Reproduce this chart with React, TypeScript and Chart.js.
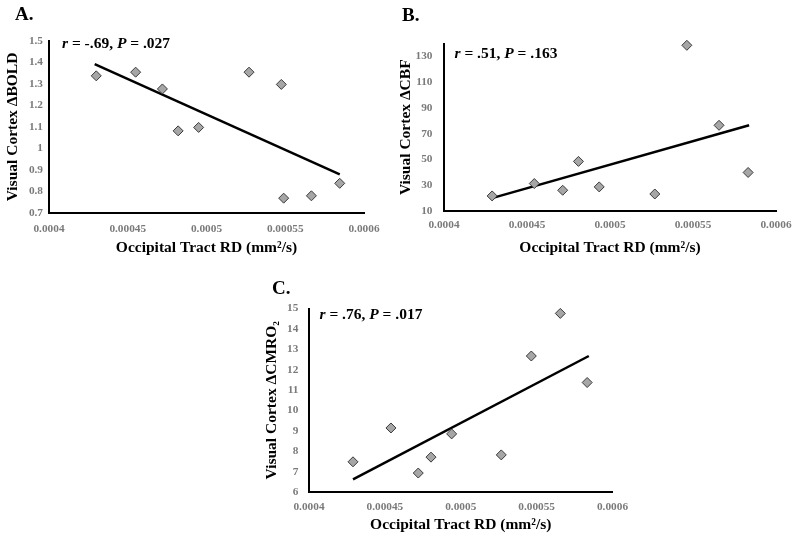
import React, { useEffect, useRef } from "react";
import { Chart, registerables } from "chart.js";

Chart.register(...registerables);

const FONT = '"Liberation Serif", "Times New Roman", Times, serif';

// shared x axis
const xTicks = [0.0004, 0.00045, 0.0005, 0.00055, 0.0006];
const xTickLabels = ["0.0004", "0.00045", "0.0005", "0.00055", "0.0006"];
const xTitle = "Occipital Tract RD (mm\u00b2/s)";

// Panel A: BOLD
const aX = [0.00043, 0.000455, 0.000472, 0.000482, 0.000495, 0.000527, 0.0005475, 0.000549, 0.0005666, 0.0005846];
const aY = [1.338, 1.355, 1.277, 1.082, 1.098, 1.355, 1.298, 0.769, 0.78, 0.838];
const aTrendX = [0.000429, 0.0005846];
const aTrendY = [1.392, 0.88];
const aYTicks = [0.7, 0.8, 0.9, 1, 1.1, 1.2, 1.3, 1.4, 1.5];
const aYTickLabels = ["0.7", "0.8", "0.9", "1", "1.1", "1.2", "1.3", "1.4", "1.5"];

// Panel B: CBF
const bX = [0.000429, 0.0004544, 0.0004715, 0.000481, 0.0004935, 0.000527, 0.0005463, 0.0005657, 0.0005832];
const bY = [21.7, 31.3, 26.1, 48.5, 28.7, 23.2, 138.6, 76.5, 39.9];
const bTrendX = [0.00043, 0.0005838];
const bTrendY = [20.4, 76.5];
const bYTicks = [10, 30, 50, 70, 90, 110, 130];
const bYTickLabels = ["10", "30", "50", "70", "90", "110", "130"];

// Panel C: CMRO2
const cX = [0.000429, 0.000454, 0.000472, 0.0004804, 0.000494, 0.0005267, 0.0005465, 0.0005656, 0.0005833];
const cY = [7.48, 9.14, 6.93, 7.71, 8.85, 7.82, 12.67, 14.76, 11.37];
const cTrendX = [0.000429, 0.0005844];
const cTrendY = [6.62, 12.67];
const cYTicks = [6, 7, 8, 9, 10, 11, 12, 13, 14, 15];
const cYTickLabels = ["6", "7", "8", "9", "10", "11", "12", "13", "14", "15"];

type Note = [string, boolean][];

type Cfg = {
  left: number; top: number; width: number; height: number;
  area: { l: number; t: number; r: number; b: number };
  xs: number[]; ys: number[]; tx: number[]; ty: number[];
  yMin: number; yMax: number; yTicks: number[]; yTickLabels: string[];
  yTitle: string; yTitleX: number; xTitleY: number;
  xTickPad: number; yTickPad: number;
  note: Note; noteX: number; noteY: number;
};

const TITLE_SIZE = 15.5;
const TITLE_LH = 1.2;
const TICK_SIZE = 11.3;

function Panel({ cfg }: { cfg: Cfg }) {
  const ref = useRef<HTMLCanvasElement | null>(null);
  useEffect(() => {
    if (!ref.current) return;
    const c = cfg;
    const yW = c.area.l - c.left;
    const xH = c.top + c.height - c.area.b;
    const lh = TITLE_SIZE * TITLE_LH;
    const notePlugin = {
      id: "note",
      afterDraw(chart: any) {
        const ctx = chart.ctx;
        ctx.save();
        ctx.fillStyle = "#000";
        ctx.textBaseline = "middle";
        ctx.textAlign = "left";
        let x = c.noteX - c.left;
        const y = c.noteY - c.top;
        for (const [txt, it] of c.note) {
          ctx.font = `${it ? "italic " : ""}bold ${TITLE_SIZE}px ${FONT}`;
          ctx.fillText(txt, x, y);
          x += ctx.measureText(txt).width;
        }
        ctx.restore();
      },
    };
    const chart = new Chart(ref.current, {
      type: "scatter",
      data: {
        datasets: [
          {
            data: c.xs.map((x, i) => ({ x, y: c.ys[i] })),
            pointStyle: "rectRot",
            pointRadius: 5,
            pointHoverRadius: 5,
            backgroundColor: "#a6a6a6",
            borderColor: "#3a3a3a",
            borderWidth: 1,
            clip: false,
          },
          {
            data: c.tx.map((x, i) => ({ x, y: c.ty[i] })),
            showLine: true,
            pointRadius: 0,
            borderColor: "#000",
            borderWidth: 2.5,
            backgroundColor: "#000",
            clip: false,
          },
        ],
      },
      options: {
        responsive: false,
        animation: false,
        events: [],
        layout: {
          padding: {
            left: 0,
            top: c.area.t - c.top,
            right: c.left + c.width - c.area.r,
            bottom: 0,
          },
        },
        plugins: { legend: { display: false }, tooltip: { enabled: false } },
        scales: {
          x: {
            type: "linear",
            min: xTicks[0],
            max: xTicks[xTicks.length - 1],
            grid: { display: false, drawTicks: false },
            border: { display: true, color: "#000", width: 2 },
            afterBuildTicks: (s: any) => {
              s.ticks = xTicks.map((v) => ({ value: v }));
            },
            afterFit: (s: any) => {
              s.height = xH;
            },
            ticks: {
              autoSkip: false,
              maxRotation: 0,
              padding: c.xTickPad,
              color: "#7a7a7a",
              font: { family: FONT, size: TICK_SIZE, weight: "bold", lineHeight: 1.2 },
              callback: (v: any) => {
                const i = xTicks.findIndex((t) => Math.abs(t - Number(v)) < 1e-9);
                return i >= 0 ? xTickLabels[i] : "";
              },
            },
            title: {
              display: true,
              text: xTitle,
              color: "#000",
              font: { family: FONT, size: TITLE_SIZE, weight: "bold", lineHeight: TITLE_LH },
              padding: { top: 0, bottom: c.top + c.height - c.xTitleY - lh / 2 },
            },
          },
          y: {
            type: "linear",
            min: c.yMin,
            max: c.yMax,
            grid: { display: false, drawTicks: false },
            border: { display: true, color: "#000", width: 2 },
            afterBuildTicks: (s: any) => {
              s.ticks = c.yTicks.map((v) => ({ value: v }));
            },
            afterFit: (s: any) => {
              s.width = yW;
            },
            ticks: {
              autoSkip: false,
              padding: c.yTickPad,
              color: "#7a7a7a",
              font: { family: FONT, size: TICK_SIZE, weight: "bold", lineHeight: 1.2 },
              callback: (v: any) => {
                const i = c.yTicks.findIndex((t) => Math.abs(t - Number(v)) < 1e-9);
                return i >= 0 ? c.yTickLabels[i] : "";
              },
            },
            title: {
              display: true,
              text: c.yTitle,
              color: "#000",
              font: { family: FONT, size: TITLE_SIZE, weight: "bold", lineHeight: TITLE_LH },
              padding: { top: c.yTitleX - c.left - lh / 2, bottom: 0 },
            },
          },
        },
      } as any,
      plugins: [notePlugin],
    });
    return () => chart.destroy();
  }, [cfg]);
  return (
    <canvas
      ref={ref}
      width={cfg.width}
      height={cfg.height}
      style={{ position: "absolute", left: cfg.left, top: cfg.top, width: cfg.width, height: cfg.height }}
    />
  );
}

const panelA: Cfg = {
  left: 0, top: 0, width: 400, height: 262,
  area: { l: 49, t: 41, r: 364, b: 213 },
  xs: aX, ys: aY, tx: aTrendX, ty: aTrendY,
  yMin: 0.7, yMax: 1.5, yTicks: aYTicks, yTickLabels: aYTickLabels,
  yTitle: "Visual Cortex \u0394BOLD", yTitleX: 13, xTitleY: 248,
  xTickPad: 9.4, yTickPad: 6,
  note: [["r", true], [" = -.69, ", false], ["P", true], [" = .027", false]],
  noteX: 62, noteY: 43.5,
};

const panelB: Cfg = {
  left: 392, top: 0, width: 408, height: 262,
  area: { l: 444, t: 43.5, r: 776, b: 211 },
  xs: bX, ys: bY, tx: bTrendX, ty: bTrendY,
  yMin: 10, yMax: 140, yTicks: bYTicks, yTickLabels: bYTickLabels,
  yTitle: "Visual Cortex \u0394CBF", yTitleX: 406, xTitleY: 248,
  xTickPad: 7.7, yTickPad: 11.5,
  note: [["r", true], [" = .51, ", false], ["P", true], [" = .163", false]],
  noteX: 454.5, noteY: 53.5,
};

const panelC: Cfg = {
  left: 220, top: 265, width: 420, height: 275,
  area: { l: 309, t: 308.5, r: 612.5, b: 492 },
  xs: cX, ys: cY, tx: cTrendX, ty: cTrendY,
  yMin: 6, yMax: 15, yTicks: cYTicks, yTickLabels: cYTickLabels,
  yTitle: "Visual Cortex \u0394CMRO\u2082", yTitleX: 271.7, xTitleY: 525,
  xTickPad: 8.8, yTickPad: 10.7,
  note: [["r", true], [" = .76, ", false], ["P", true], [" = .017", false]],
  noteX: 319.5, noteY: 315,
};

const labelStyle: React.CSSProperties = {
  position: "absolute",
  fontFamily: FONT,
  fontWeight: "bold",
  fontSize: 19,
  lineHeight: "20px",
  color: "#000",
};

export default function App() {
  return (
    <div style={{ position: "absolute", left: 0, top: 0, width: 800, height: 540, background: "#fff", overflow: "hidden" }}>
      <Panel cfg={panelA} />
      <Panel cfg={panelB} />
      <Panel cfg={panelC} />
      <div style={{ ...labelStyle, left: 15, top: 4 }}>A.</div>
      <div style={{ ...labelStyle, left: 402, top: 5 }}>B.</div>
      <div style={{ ...labelStyle, left: 272, top: 278 }}>C.</div>
    </div>
  );
}
